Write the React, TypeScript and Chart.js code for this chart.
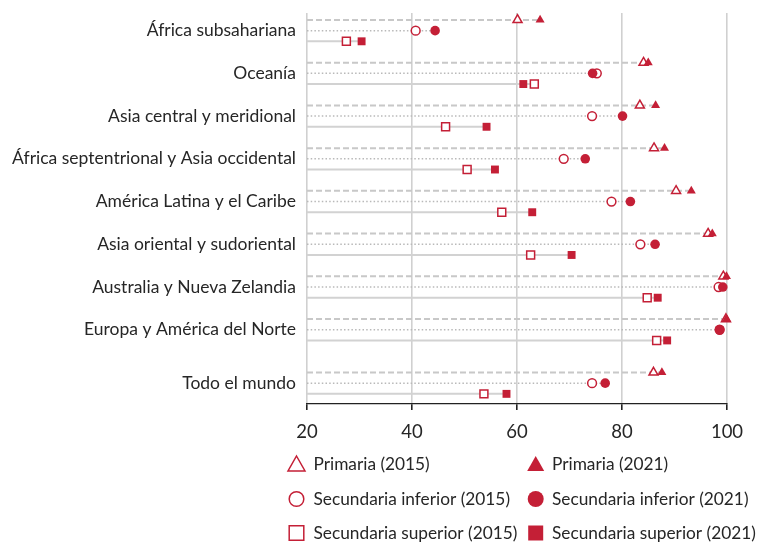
import React, { useEffect, useRef } from 'react';
import { Chart, registerables } from 'chart.js';

Chart.register(...registerables);

const categories = [
  'África subsahariana',
  'Oceanía',
  'Asia central y meridional',
  'África septentrional y Asia occidental',
  'América Latina y el Caribe',
  'Asia oriental y sudoriental',
  'Australia y Nueva Zelandia',
  'Europa y América del Norte',
  'Todo el mundo',
];

const primaria2015 = [60.1, 84.1, 83.4, 86.1, 90.3, 96.4, 99.3, 99.8, 86.0];
const primaria2021 = [64.4, 85.0, 86.4, 88.1, 93.2, 97.2, 99.9, 99.9, 87.6];
const secInf2015 = [40.7, 75.2, 74.3, 68.9, 78.0, 83.5, 98.4, 98.6, 74.3];
const secInf2021 = [44.4, 74.4, 80.1, 73.0, 81.6, 86.3, 99.2, 98.6, 76.8];
const secSup2015 = [27.5, 63.3, 46.4, 50.5, 57.1, 62.6, 84.8, 86.6, 53.7];
const secSup2021 = [30.4, 61.2, 54.2, 55.8, 62.9, 70.4, 86.8, 88.6, 58.0];

const xTicks = [20, 40, 60, 80, 100];

const legendLabels = [
  'Primaria (2015)',
  'Primaria (2021)',
  'Secundaria inferior (2015)',
  'Secundaria inferior (2021)',
  'Secundaria superior (2015)',
  'Secundaria superior (2021)',
];

const RED = '#c41f36';
const TEXT = '#262626';
const FONT = 'Lato';

// row position of a category group (extra gap before "Todo el mundo")
const rowOf = (g: number, r: number) => g * 4 + (g === categories.length - 1 ? 1 : 0) + r;

const levels = [
  { v15: primaria2015, v21: primaria2021, shape: 'triangle', radius: 5.2, dash: [6, 3], width: 2, color: '#c8c8c8' },
  { v15: secInf2015, v21: secInf2021, shape: 'circle', radius: 4.4, dash: [1.5, 2.2], width: 1.5, color: '#b9b9b9' },
  { v15: secSup2015, v21: secSup2021, shape: 'rect', radius: 5.6, dash: [], width: 2, color: '#d2d2d2' },
];

function drawShape(ctx: CanvasRenderingContext2D, shape: string, x: number, y: number, filled: boolean) {
  ctx.beginPath();
  if (shape === 'triangle') {
    ctx.moveTo(x, y - 8);
    ctx.lineTo(x + 8.5, y + 7);
    ctx.lineTo(x - 8.5, y + 7);
    ctx.closePath();
  } else if (shape === 'circle') {
    ctx.arc(x, y, filled ? 8 : 7.3, 0, Math.PI * 2);
  } else {
    if (filled) ctx.rect(x - 7.5, y - 7.5, 15, 15);
    else ctx.rect(x - 7.3, y - 7.3, 14.6, 14.6);
  }
  if (filled) {
    ctx.fillStyle = RED;
    ctx.fill();
  } else {
    ctx.lineWidth = 1.5;
    ctx.strokeStyle = RED;
    ctx.stroke();
  }
}

const legendPlugin = {
  id: 'customLegend',
  afterDraw(chart: any) {
    const ctx: CanvasRenderingContext2D = chart.ctx;
    const colMarker = [296.5, 535.7];
    const colText = [313.5, 552];
    const rowY = [464, 499, 533];
    ctx.save();
    legendLabels.forEach((label, i) => {
      const col = i % 2;
      const row = Math.floor(i / 2);
      drawShape(ctx, levels[row].shape, colMarker[col], rowY[row], col === 1);
      ctx.fillStyle = TEXT;
      ctx.font = `17.3px ${FONT}`;
      ctx.textBaseline = 'middle';
      ctx.textAlign = 'left';
      ctx.fillText(label, colText[col], rowY[row]);
    });
    ctx.restore();
  },
};

export default function App() {
  const ref = useRef<HTMLCanvasElement | null>(null);

  useEffect(() => {
    document.body.style.margin = '0';
    const canvas = ref.current;
    if (!canvas) return;

    const datasets: any[] = [];
    levels.forEach((lv, l) => {
      categories.forEach((_, g) => {
        datasets.push({
          data: [
            { x: xTicks[0], y: rowOf(g, l) },
            { x: Math.max(lv.v15[g], lv.v21[g]), y: rowOf(g, l) },
          ],
          showLine: true,
          borderColor: lv.color,
          borderWidth: lv.width,
          borderDash: lv.dash,
          pointRadius: 0,
          order: 3,
        });
      });
    });
    levels.forEach((lv, l) => {
      datasets.push({
        data: lv.v15.map((v, g) => ({ x: v, y: rowOf(g, l) })),
        pointStyle: lv.shape,
        pointRadius: lv.radius,
        pointBackgroundColor: '#ffffff',
        pointBorderColor: RED,
        pointBorderWidth: 1.5,
        clip: false,
        order: 2,
      });
    });
    levels.forEach((lv, l) => {
      datasets.push({
        data: lv.v21.map((v, g) => ({ x: v, y: rowOf(g, l) })),
        pointStyle: lv.shape,
        pointRadius: lv.shape === 'circle' ? 4.8 : lv.radius,
        pointBackgroundColor: RED,
        pointBorderColor: RED,
        pointBorderWidth: 0,
        clip: false,
        order: 1,
      });
    });

    const chart = new Chart(canvas, {
      type: 'scatter',
      data: { datasets },
      plugins: [legendPlugin],
      options: {
        animation: false,
        responsive: false,
        devicePixelRatio: 1,
        layout: { padding: { top: 13, right: 31, left: 0, bottom: 0 } },
        plugins: {
          legend: { display: false },
          tooltip: { enabled: false },
        },
        scales: {
          x: {
            type: 'linear',
            min: xTicks[0],
            max: xTicks[xTicks.length - 1],
            afterBuildTicks: (scale: any) => {
              scale.ticks = xTicks.map((v) => ({ value: v }));
            },
            afterFit: (scale: any) => {
              scale.height = 139;
              scale.paddingLeft = 0;
              scale.paddingRight = 0;
            },
            ticks: {
              font: { family: FONT, size: 18.5 },
              color: TEXT,
              padding: 11,
            },
            grid: {
              color: '#d0d0d0',
              lineWidth: 1.6,
              tickColor: '#222222',
              tickLength: 6,
            },
            border: { display: true, color: '#222222', width: 1.3 },
          },
          y: {
            type: 'linear',
            reverse: true,
            min: -0.65,
            max: 35.95,
            afterBuildTicks: (scale: any) => {
              scale.ticks = categories.map((_, g) => ({ value: rowOf(g, 1) }));
            },
            afterFit: (scale: any) => {
              scale.width = 307;
              scale.paddingTop = 0;
              scale.paddingBottom = 0;
            },
            ticks: {
              autoSkip: false,
              font: { family: FONT, size: 17.5 },
              color: TEXT,
              padding: 11,
              callback: (value: any) => {
                const g = categories.findIndex((_, i) => rowOf(i, 1) === value);
                return g >= 0 ? categories[g] : '';
              },
            },
            grid: { display: false, drawTicks: false },
            border: { display: false },
          },
        },
      },
    });

    return () => chart.destroy();
  }, []);

  return (
    <div style={{ width: 758, height: 543 }}>
      <canvas ref={ref} width={758} height={543} style={{ display: 'block', width: 758, height: 543 }} />
    </div>
  );
}
